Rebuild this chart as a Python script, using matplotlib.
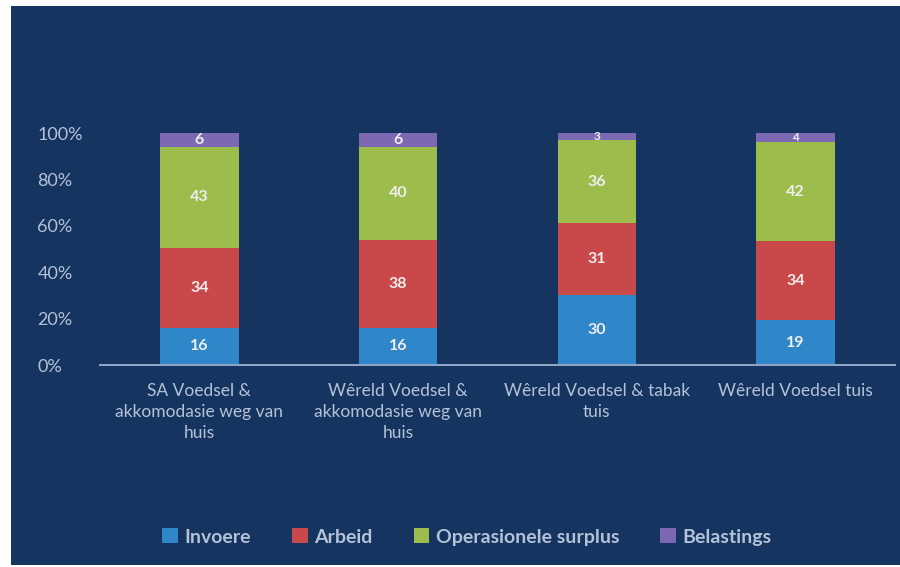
import numpy as np
import matplotlib.pyplot as plt
from matplotlib.patches import Rectangle

categories = [
    "SA Voedsel &\nakkomodasie weg van\nhuis",
    "Wêreld Voedsel &\nakkomodasie weg van\nhuis",
    "Wêreld Voedsel & tabak\ntuis",
    "Wêreld Voedsel tuis",
]
series_names = ["Invoere", "Arbeid", "Operasionele surplus", "Belastings"]
invoere = [16, 16, 30, 19]
arbeid = [34, 38, 31, 34]
surplus = [43, 40, 36, 42]
belastings = [6, 6, 3, 4]
yticks = [0, 20, 40, 60, 80, 100]
ytick_labels = ["0%", "20%", "40%", "60%", "80%", "100%"]

colors = ["#2f86c8", "#c9494a", "#9cbc4c", "#7d68b3"]
navy = "#15345f"
text_col = "#b4c2d8"

plt.rcParams['font.family'] = ['Lato', 'DejaVu Sans']

fig = plt.figure(figsize=(9, 5.67), dpi=100)
fig.patch.set_facecolor("white")
fig.patches.append(Rectangle((11 / 900, 2 / 567), 1 - 11 / 900, 559 / 567,
                             transform=fig.transFigure, facecolor=navy,
                             edgecolor="none", zorder=-10))

ax = fig.add_axes([100 / 900, 1 - 365 / 567, 795 / 900, 232 / 567])
ax.set_facecolor("none")

data = np.array([invoere, arbeid, surplus, belastings], dtype=float)
totals = data.sum(axis=0)
pct = data / totals * 100
x = np.arange(len(categories))
bottom = np.zeros(len(categories))
for i, name in enumerate(series_names):
    bars = ax.bar(x, pct[i], 0.395, bottom=bottom, color=colors[i], label=name)
    for j, b in enumerate(bars):
        ax.text(b.get_x() + b.get_width() / 2, bottom[j] + pct[i][j] / 2,
                str(int(data[i][j])), ha="center", va="center",
                color="#eeeeee", fontsize=11.5 if pct[i][j] > 5 else 8.5, fontweight="bold")
    bottom += pct[i]

ax.set_xlim(-0.5, len(categories) - 0.5)
ax.set_ylim(0, 100)
ax.set_yticks(yticks)
ax.set_yticklabels(ytick_labels)
for lab in ax.get_yticklabels():
    lab.set_ha("left")
ax.tick_params(axis="y", length=0, pad=45, labelsize=13, labelcolor=text_col)
ax.set_xticks(x)
ax.set_xticklabels(categories, linespacing=1.4)
ax.tick_params(axis="x", length=0, pad=13, labelsize=12.5, labelcolor=text_col)

for s in ["top", "right", "left"]:
    ax.spines[s].set_visible(False)
ax.spines["bottom"].set_color("#8ea4c6")
ax.spines["bottom"].set_linewidth(1.5)

leg = fig.legend(loc="center", bbox_to_anchor=(467 / 900, 1 - 537 / 567), ncol=4,
                 frameon=False, fontsize=14, handlelength=0.8, handleheight=0.8,
                 handletextpad=0.35, columnspacing=2.1)
for t in leg.get_texts():
    t.set_color(text_col)
    t.set_fontweight("bold")

fig.savefig("out.png", dpi=100)
